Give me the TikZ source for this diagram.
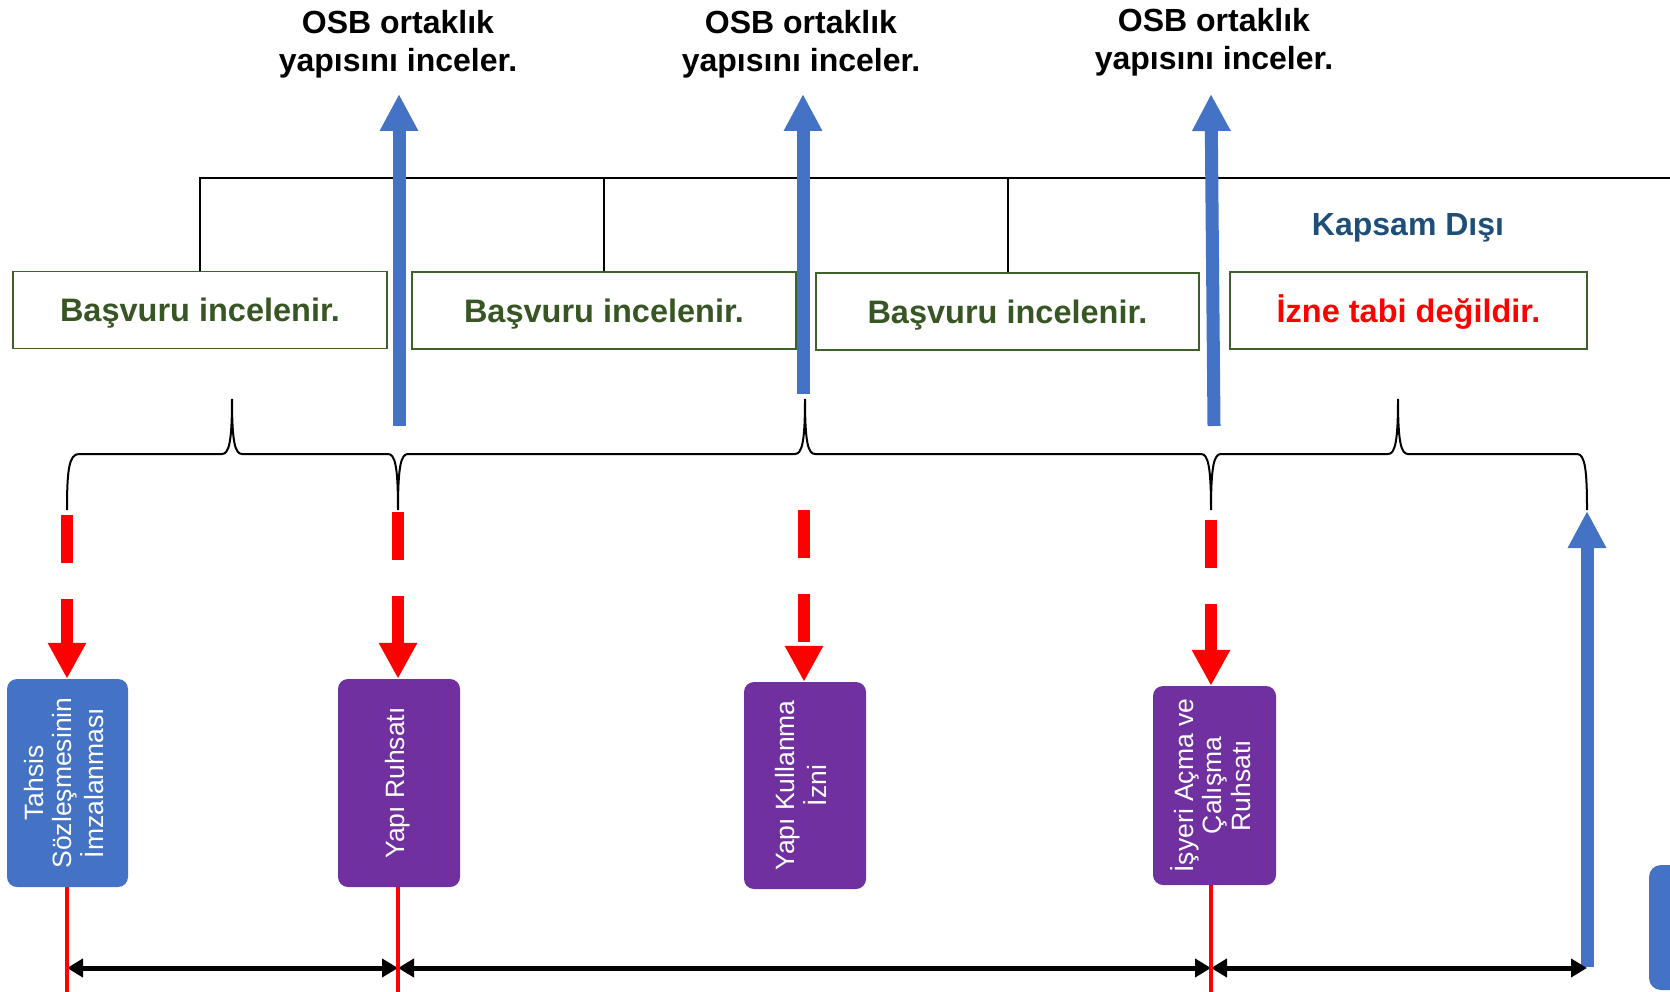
\documentclass[tikz,border=0pt]{standalone}
\usepackage{fontspec}
\usepackage{graphicx}
\setmainfont{Liberation Sans}
\usetikzlibrary{arrows.meta}
\definecolor{bl}{HTML}{4472C4}
\definecolor{pu}{HTML}{7030A0}
\definecolor{gtext}{HTML}{375623}
\definecolor{gbord}{HTML}{3E6129}
\definecolor{kd}{HTML}{1F4E79}
\newcommand{\rtext}[1]{\rotatebox{90}{\begin{tabular}{@{}c@{}}#1\end{tabular}}}
\begin{document}
\begin{tikzpicture}[x=1pt,y=-1pt,
  gbox/.style={draw=gbord, line width=1.6pt, minimum width=#1, minimum height=77pt,
    inner sep=0pt, font=\bfseries\fontsize{32.5}{37}\selectfont, text height=23.5pt, text depth=0pt},
  hdr/.style={align=center, inner sep=0pt, anchor=north, font=\bfseries\fontsize{32}{38}\selectfont},
  barrow/.style={draw=bl, line width=13pt, -{Triangle[length=37pt,width=36pt]}},
  rarrow/.style={draw=red, line width=12pt, dash pattern=on 48pt off 36pt, -{Triangle[length=36pt,width=36pt]}},
  darrow/.style={line width=5pt, {Triangle[length=16pt,width=18pt]}-{Triangle[length=16pt,width=18pt]}},
  rline/.style={draw=red, line width=4.5pt},
  conn/.style={line width=2pt},
  brace/.style={line width=2pt},
  vbox/.style={fill=#1, rounded corners=10pt, inner sep=0pt, text=white, font=\fontsize{26.5}{28.5}\selectfont}
]
\useasboundingbox (0,0) rectangle (1670,992);
\clip (0,0) rectangle (1670,992);

% header labels
\node[hdr] (osb1) at (398,10) {OSB ortaklık\\yapısını inceler.};
\node[hdr] (osb2) at (801,10) {OSB ortaklık\\yapısını inceler.};
\node[hdr] (osb3) at (1214,8) {OSB ortaklık\\yapısını inceler.};

% green boxes
\node[gbox=374pt, text=gtext] (b1) at (200,310) {Başvuru incelenir.};
\node[gbox=384pt, text=gtext] (b2) at (604,310.5) {Başvuru incelenir.};
\node[gbox=383pt, text=gtext] (b3) at (1007.5,311.5) {Başvuru incelenir.};
\node[gbox=357pt, text=red] (b4) at (1408.5,310.5) {İzne tabi değildir.};
\node[inner sep=0pt, anchor=base, text=kd, font=\bfseries\fontsize{32}{37}\selectfont] (kd) at (1408,236) {Kapsam Dışı};

% top line and connectors
\coordinate (tlR) at (1688,178);
\draw[conn, -{Triangle[length=18pt,width=14pt]}] (b1.north) |- (tlR);
\draw[conn] (b2.north) -- (b2.north |- tlR);
\draw[conn] (b3.north) -- (b3.north |- tlR);

% blue up arrows
\coordinate (bb1) at (399,426); \coordinate (bt1) at (399,94);
\coordinate (bb2) at (803,394); \coordinate (bt2) at (803,94);
\coordinate (bb3) at (1214,426); \coordinate (bt3) at (1211,94);
\draw[barrow] (bb1) -- (bt1);
\draw[barrow] (bb2) -- (bt2);
\draw[barrow] (bb3) -- (bt3);

% braces
\draw[brace] (67,510) .. controls (67,470) and (69,454) .. (79,454) -- (222,454)
  .. controls (229,454) and (232,442) .. (232,399) .. controls (232,442) and (235,454) .. (242,454)
  -- (388,454) .. controls (395,454) and (398,466) .. (398,510) .. controls (398,466) and (401,454) .. (408,454)
  -- (795,454) .. controls (802,454) and (805,442) .. (805,399) .. controls (805,442) and (808,454) .. (815,454)
  -- (1201,454) .. controls (1208,454) and (1211,466) .. (1211,510) .. controls (1211,466) and (1214,454) .. (1221,454)
  -- (1388,454) .. controls (1395,454) and (1398,442) .. (1398,399) .. controls (1398,442) and (1401,454) .. (1408,454)
  -- (1577,454) .. controls (1585,454) and (1587,470) .. (1587,510);

% bottom boxes
\node[vbox=bl, minimum width=121pt, minimum height=208pt] (bA) at (67.5,783) {\rtext{Tahsis\\Sözleşmesinin\\İmzalanması}};
\node[vbox=pu, minimum width=122pt, minimum height=208pt] (bB) at (399,783) {\rtext{Yapı Ruhsatı}};
\node[vbox=pu, minimum width=122pt, minimum height=207pt] (bC) at (805,785.5) {\rtext{Yapı Kullanma\\İzni}};
\node[vbox=pu, minimum width=123pt, minimum height=199pt] (bD) at (1214.5,785.5) {\rtext{İşyeri Açma ve\\Çalışma\\Ruhsatı}};
\fill[bl, rounded corners=12pt] (1649,865) rectangle (1710,990);

% red dashed arrows
\coordinate (r1) at (67,515);
\coordinate (r2) at (398,512);
\coordinate (r3) at (804,510);
\coordinate (r4) at (1211,520);
\draw[rarrow] (r1) -- (r1 |- bA.north);
\draw[rarrow] (r2) -- (r2 |- bB.north);
\draw[rarrow] (r3) -- (r3 |- bC.north);
\draw[rarrow] (r4) -- (r4 |- bD.north);

% bottom-right blue arrow
\coordinate (b4b) at (1587,967); \coordinate (b4t) at (1587,511);
\draw[barrow] (b4b) -- (b4t);

% dimension arrows
\coordinate (d1) at (67,968);
\coordinate (d2) at (398,968);
\coordinate (d3) at (1211,968);
\coordinate (d4) at (1587,968);
\draw[darrow] (d1) -- (d2);
\draw[darrow] (d2) -- (d3);
\draw[darrow] (d3) -- (d4);

% red lines below boxes
\coordinate (e1) at (67,992);
\coordinate (e2) at (398,992);
\coordinate (e3) at (1211,992);
\draw[rline] (r1 |- bA.south) -- (e1);
\draw[rline] (r2 |- bB.south) -- (e2);
\draw[rline] (r4 |- bD.south) -- (e3);
\end{tikzpicture}
\end{document}
